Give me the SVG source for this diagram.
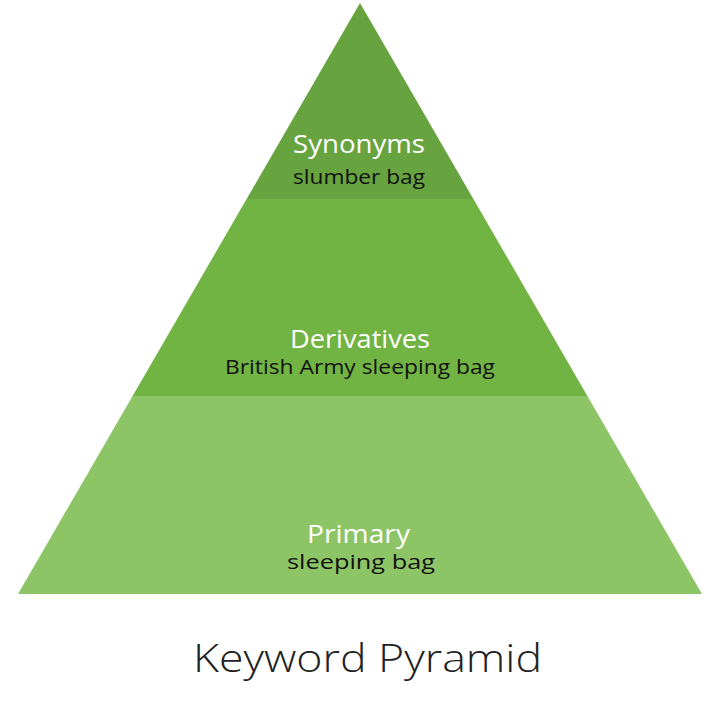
<svg xmlns="http://www.w3.org/2000/svg" width="724" height="710" viewBox="0 0 724 710">
<style>
.t{font-family:"Open Sans",Lato,"Liberation Sans",sans-serif;text-anchor:middle}
.h{fill:#ffffff;font-size:26px;font-weight:400}
.s{fill:#111111;font-size:20px;font-weight:400}
.title{fill:#222222;font-size:39px;font-weight:300}
</style>
<rect width="724" height="710" fill="#ffffff"/>
<g id="tier-primary">
<polygon points="132.6,396 587.4,396 702,594 18,594" fill="#8dc566"/>
<text class="t h" x="358.5" y="543" textLength="103" lengthAdjust="spacingAndGlyphs">Primary</text>
<text class="t s" x="361" y="569" textLength="148" lengthAdjust="spacingAndGlyphs">sleeping bag</text>
</g>
<g id="tier-derivatives">
<polygon points="246.6,199 473.4,199 587.4,396 132.6,396" fill="#72b443"/>
<text class="t h" x="360" y="348" textLength="140" lengthAdjust="spacingAndGlyphs">Derivatives</text>
<text class="t s" x="360" y="374" textLength="270" lengthAdjust="spacingAndGlyphs">British Army sleeping bag</text>
</g>
<g id="tier-synonyms">
<polygon points="360,3 473.4,199 246.6,199" fill="#67a33f"/>
<text class="t h" x="359" y="153" textLength="132" lengthAdjust="spacingAndGlyphs">Synonyms</text>
<text class="t s" x="359" y="184" textLength="132" lengthAdjust="spacingAndGlyphs">slumber bag</text>
</g>
<g id="connectors"/>
<text id="title" class="t title" x="367.5" y="672" textLength="349" lengthAdjust="spacingAndGlyphs">Keyword Pyramid</text>
</svg>
